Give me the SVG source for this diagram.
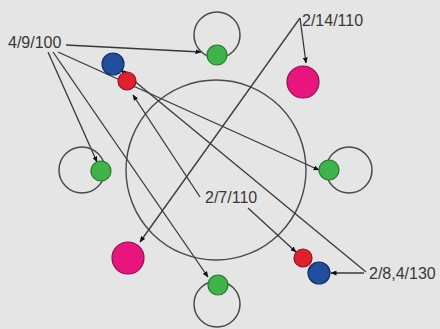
<svg xmlns="http://www.w3.org/2000/svg" width="440" height="329" viewBox="0 0 440 329">
<style>
.bg{fill:#e5e5e5}
.ring{fill:none;stroke:#4a4a4a;stroke-width:1.4}
.loop{fill:none;stroke:#4a4a4a;stroke-width:1.5}
.green{fill:#3fb34a;stroke:#237a2c;stroke-width:1.2}
.blue{fill:#1f4f9e;stroke:#142e66;stroke-width:1.2}
.red{fill:#e0202f;stroke:#8c1520;stroke-width:1.2}
.mag{fill:#e8157f;stroke:#8e1050;stroke-width:1.2}
.lbl{font-family:"Liberation Sans",Arial,sans-serif;font-size:16px;fill:#383838}
.c{fill:none;stroke:#383838;stroke-width:1.3;marker-end:url(#ah)}
.cn{fill:none;stroke:#383838;stroke-width:1.3}
</style>
<defs>
<marker id="ah" viewBox="0 0 6 5" refX="5.5" refY="2.5" markerWidth="6" markerHeight="5" markerUnits="userSpaceOnUse" orient="auto">
<path d="M0,0 L6,2.5 L0,5 z" fill="#111"/>
</marker>
</defs>
<rect class="bg" x="0" y="0" width="440" height="329"/>
<g id="ring"><circle class="ring" cx="216" cy="170" r="90"/></g>
<g id="connectors">
<path class="c" d="M66,45 L201,52"/>
<path class="c" d="M48,52 L97,162"/>
<path class="c" d="M53,52 L208,277"/>
<path class="c" d="M58,52 L319,170"/>
<path class="c" d="M300,18 L306,63"/>
<path class="c" d="M300,18 L140,242"/>
<path class="c" d="M200,197 L133,95"/>
<path class="c" d="M248,208 L296,252"/>
<path class="c" d="M366,272 L121,70"/>
<path class="c" d="M364,273 L331,273"/>
</g>
<g id="node-top"><circle class="loop" cx="217" cy="35" r="23"/><circle class="green" cx="217" cy="55" r="10"/></g>
<g id="node-left"><circle class="loop" cx="82" cy="170" r="23"/><circle class="green" cx="101" cy="171" r="10"/></g>
<g id="node-right"><circle class="loop" cx="349" cy="170" r="23"/><circle class="green" cx="329" cy="170" r="10"/></g>
<g id="node-bottom"><circle class="loop" cx="217" cy="304" r="23"/><circle class="green" cx="218" cy="285" r="10"/></g>
<g id="magenta-top"><circle class="mag" cx="303" cy="82" r="16"/></g>
<g id="magenta-bottom"><circle class="mag" cx="128" cy="258" r="16"/></g>
<g id="blue-top"><circle class="blue" cx="113" cy="64" r="11"/></g>
<g id="red-top"><circle class="red" cx="127" cy="81" r="9"/></g>
<g id="red-bottom"><circle class="red" cx="303" cy="258" r="9"/></g>
<g id="blue-bottom"><circle class="blue" cx="319" cy="273" r="11"/></g>
<g id="label-green"><text class="lbl" x="8" y="47.5">4/9/100</text></g>
<g id="label-magenta"><text class="lbl" x="302" y="25.5">2/14/110</text></g>
<g id="label-red"><text class="lbl" x="205" y="203">2/7/110</text></g>
<g id="label-blue"><text class="lbl" x="369" y="279">2/8,4/130</text></g>
</svg>
